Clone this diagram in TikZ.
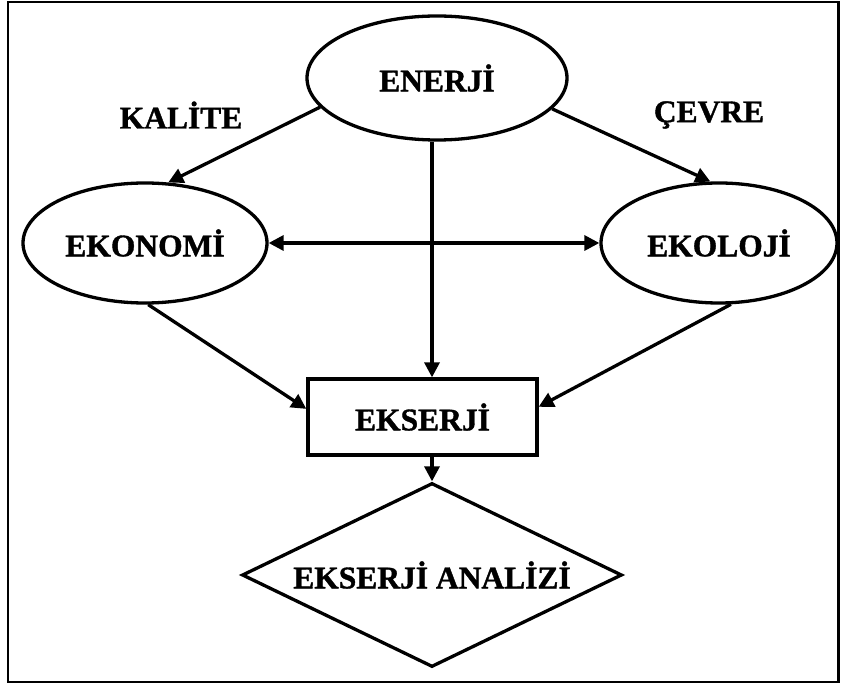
\documentclass[tikz,border=0pt]{standalone}
\usepackage{fontspec}
\setmainfont{Liberation Serif}[BoldFeatures={FakeBold=1.2}]
\usetikzlibrary{shapes.geometric,arrows.meta}
\begin{document}
\begin{tikzpicture}[x=1pt, y=-1pt, line width=3.3pt,
    >={Triangle[length=15pt,width=15pt]},
    every node/.style={font=\fontsize{31.5}{36}\selectfont\bfseries},
    oval/.style={draw, ellipse, inner sep=0pt},
    kutu/.style={draw, rectangle, inner sep=0pt, minimum width=229pt, minimum height=76pt},
    karar/.style={draw, diamond, aspect=2.07, inner sep=2pt, minimum width=380pt, minimum height=184pt}]
    \useasboundingbox (0,0) rectangle (843,684);
    \draw[line width=2.2pt] (8,2) rectangle (838.5,682);

    \node[oval, minimum width=260pt, minimum height=124pt] (enerji) at (437,78) {ENERJİ};
    \node[oval, minimum width=244pt, minimum height=120pt] (ekonomi) at (145,243) {EKONOMİ};
    \node[oval, minimum width=236pt, minimum height=120pt] (ekoloji) at (719,243) {EKOLOJİ};
    \node[kutu] (ekserji) at (422.5,417) {EKSERJİ};
    \node[karar] (analiz) at (432,575) {EKSERJİ ANALİZİ};

    \node (kalite) at (181,115) {KALİTE};
    \node (cevre) at (709,115) {ÇEVRE};

    \draw[->] (enerji.194.7) -- (ekonomi.69);
    \draw[->] (enerji.345.6) -- (ekoloji.98.5);
    \draw[<->] (ekonomi) -- (ekoloji);
    \draw[->] (analiz.north |- enerji.south) -- (analiz.north |- ekserji.north);
    \draw[->] (ekonomi.-87) -- (ekserji.176.5);
    \draw[->] (ekoloji.-79) -- (ekserji.5);
    \draw[->] (ekserji.south -| analiz.north) -- (analiz.north);
\end{tikzpicture}
\end{document}
